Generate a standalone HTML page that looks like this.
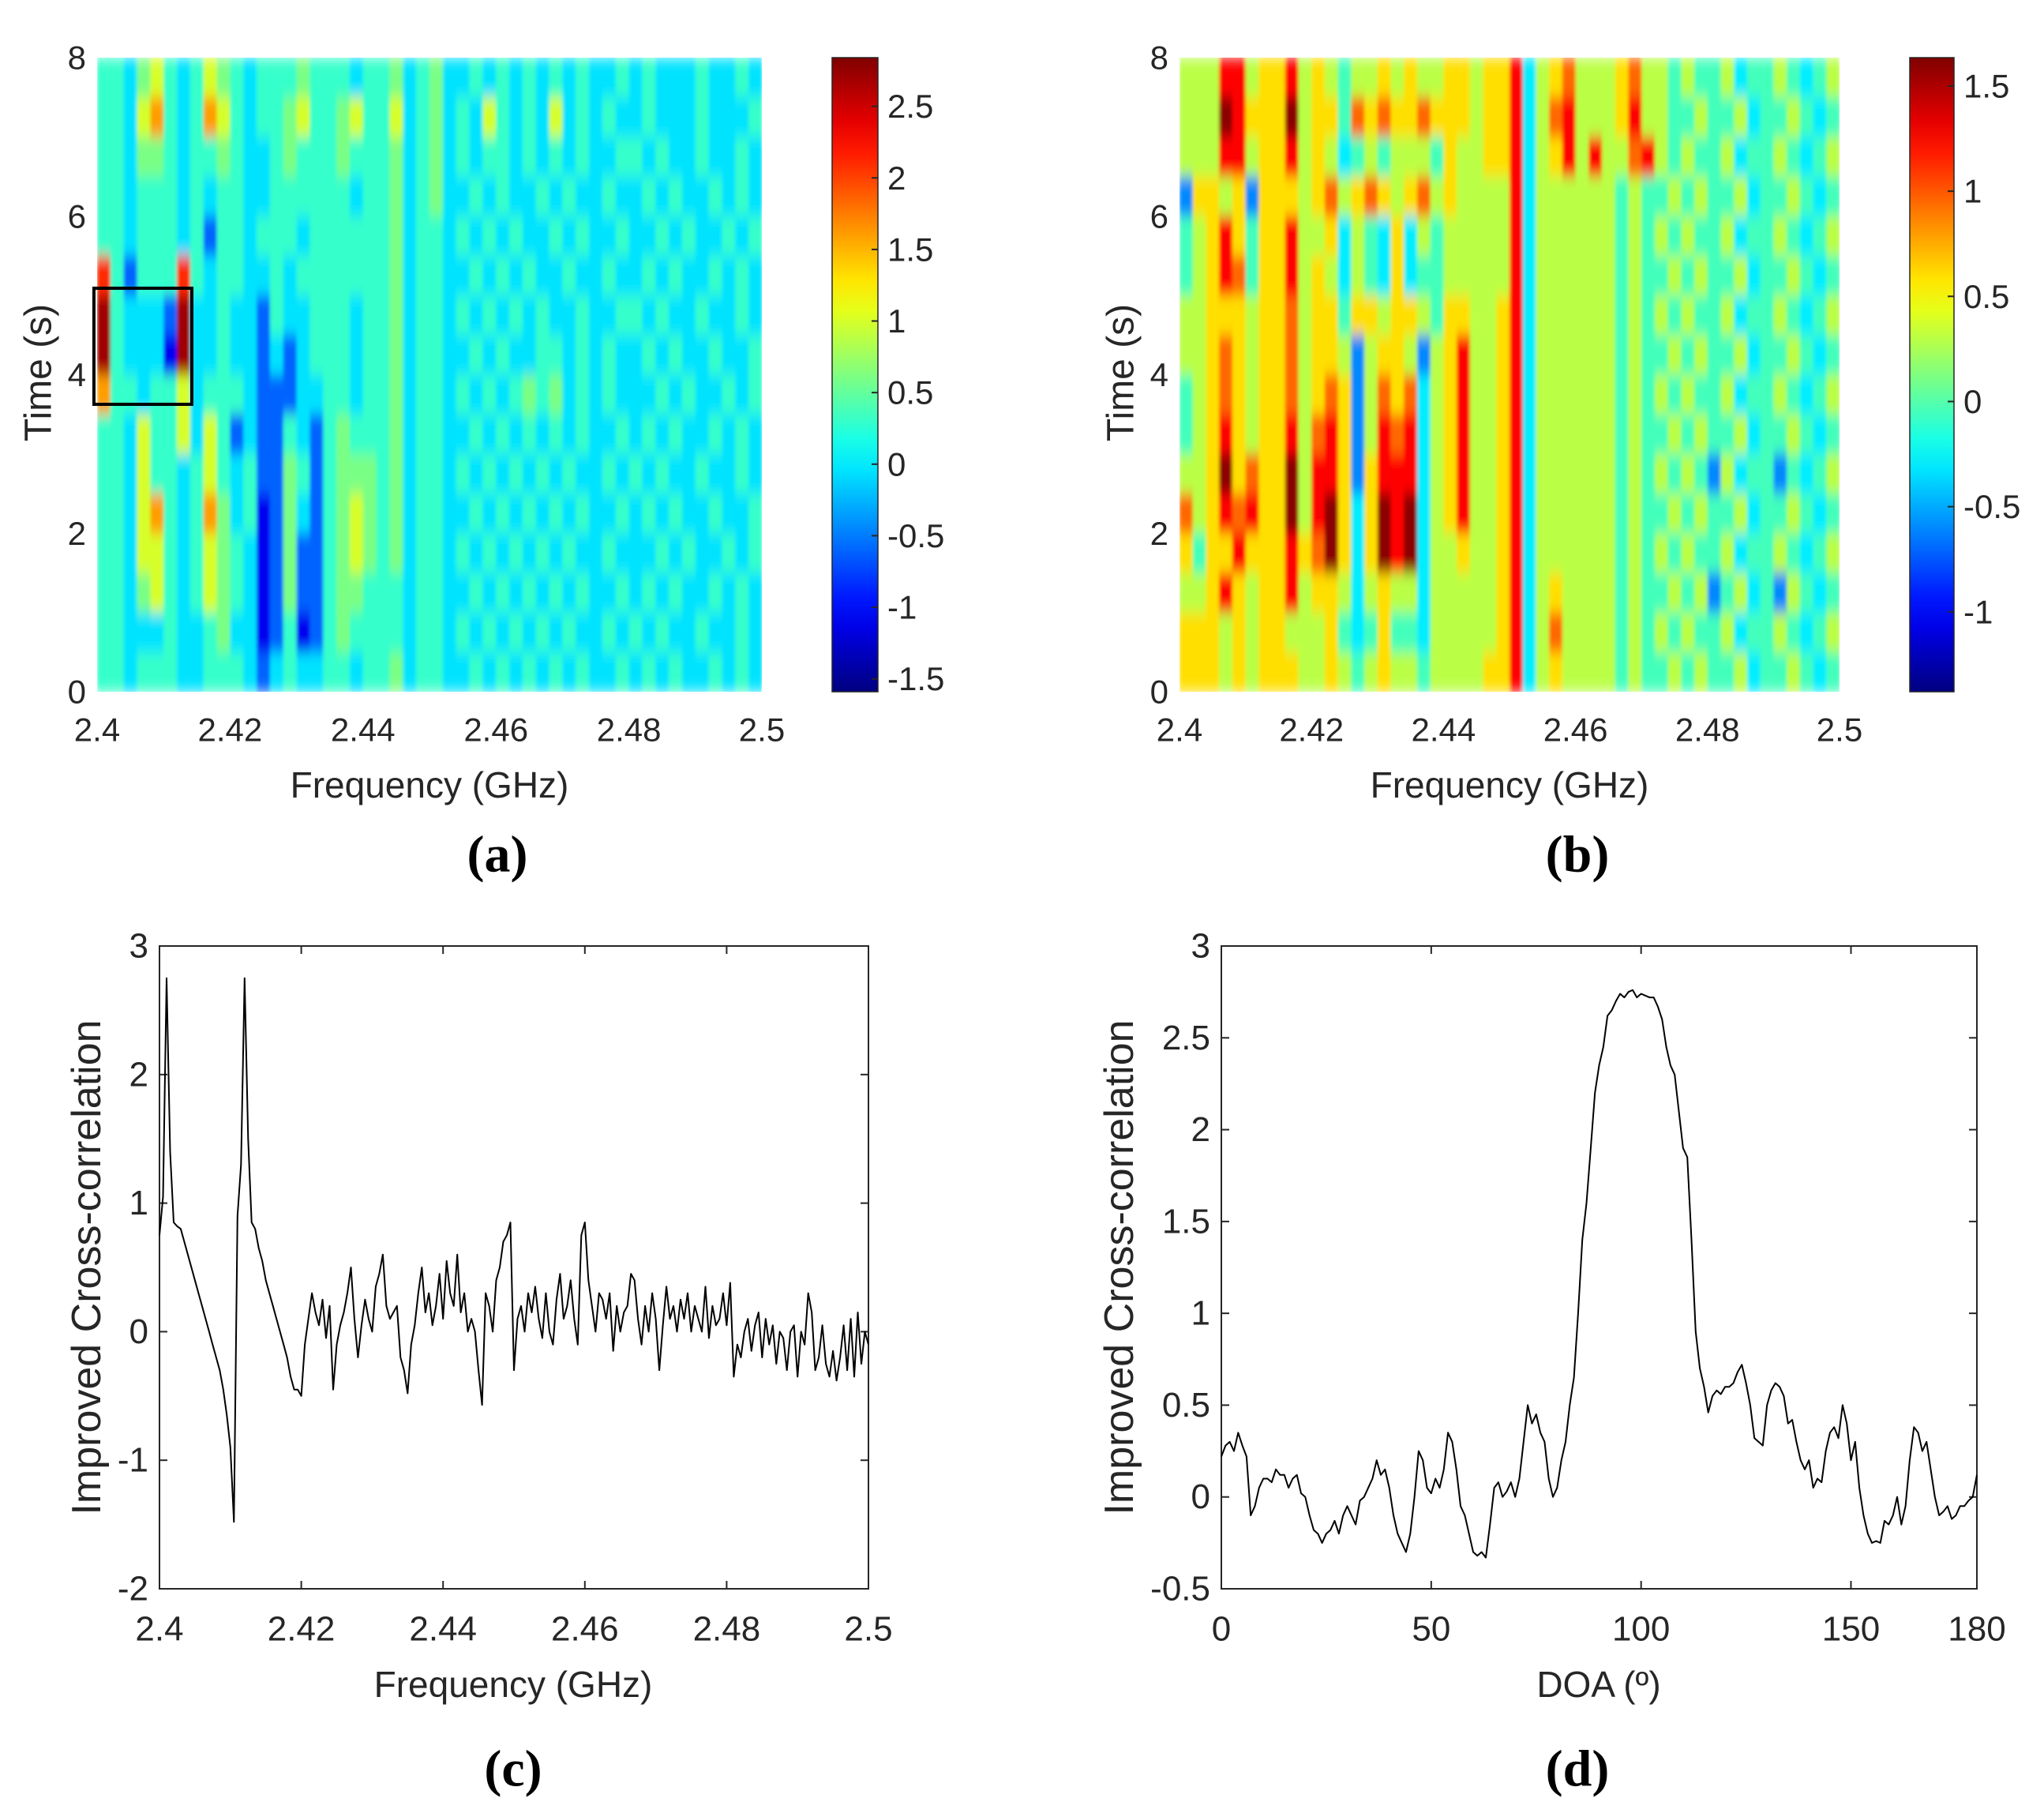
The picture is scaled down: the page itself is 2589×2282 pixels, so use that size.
<!DOCTYPE html>
<html><head><meta charset="utf-8">
<style>
html,body{margin:0;padding:0;background:#fff;}
svg{display:block;}
text{font-family:"Liberation Sans",sans-serif;fill:#262626;}
.pl{font-family:"Liberation Serif",serif;font-weight:bold;fill:#000;}
</style></head>
<body>
<svg id="fig" width="2589" height="2282" viewBox="0 0 2589 2282" xmlns="http://www.w3.org/2000/svg">
<defs>
<filter id="blur" x="0" y="0" width="100%" height="100%"><feGaussianBlur stdDeviation="2 9" edgeMode="duplicate"/></filter>
<clipPath id="clipA"><rect x="123" y="73" width="842" height="803"/></clipPath>
<clipPath id="clipB"><rect x="1494" y="73" width="836" height="803"/></clipPath>
<linearGradient id="jetA" x1="0" y1="1" x2="0" y2="0"></linearGradient>
<linearGradient id="jetB" x1="0" y1="1" x2="0" y2="0"></linearGradient>
</defs>
<g id="root"></g>
</svg>
<script>
// ---------- data ----------
const freqTicks = ["2.4","2.42","2.44","2.46","2.48","2.5"];
const freqTickVals = [2.4,2.42,2.44,2.46,2.48,2.5];
const timeTicks = [0,2,4,6,8];
const cbTicksA = [-1.5,-1,-0.5,0,0.5,1,1.5,2,2.5];
const cbTicksB = [-1,-0.5,0,0.5,1,1.5];
// value for each digit level
const levelsA = [-1.5,-1.1,-0.6,-0.05,0.3,0.6,1.0,1.6,2.1,2.7];
const levelsB = [-1.35,-0.95,-0.6,-0.3,-0.05,0.3,0.6,0.95,1.25,1.6];
// heatmap (a): 16 rows (t=8 -> 0), 50 cols (2.400 -> 2.500)
const heatA = [
"4435643465 4344454443 4453453343 4343434334 3433343343",
"4436743476 4344564456 4463453436 4343634343 3433343334",
"4435543445 4334544454 4453453434 4343434334 4343343343",
"4434443434 4334444443 4453453343 4334343343 3434334343",
"4434443424 4344434444 4453443434 3433434334 3343433434",
"8424448434 4334344444 4453443343 4343343343 3434334343",
"9433329334 3324334443 4453443434 3434334334 4343343343",
"9433319334 3323234443 4453443343 4334434343 3434334334",
"7443446344 4322233443 4453443434 3454534343 3343433434",
"4436446364 2322432454 4453443343 4343434334 3434334343",
"4436443464 3422542455 5453443434 3434343343 4343343343",
"4436743475 3412532456 5453443343 4343434334 3434334334",
"4436643465 4312522456 5453443434 3434343343 3343433434",
"4435643465 4312522455 4443443343 4343434334 3434334343",
"4433343345 3312412454 4443443434 3434343343 4343343343",
"4434443344 4323433443 4453443343 4343434334 3434334343"];
// heatmap (b)
const heatB = [
"5558856685 6545565655 6656683567 5556755454 4534454345",
"5559866695 6647676676 6656683578 5556855445 4453445434",
"5558856685 6534545554 6556683568 5855785454 4534454345",
"2665626665 6756765675 6555583555 5554544545 4453445434",
"4568646685 5635436354 5555583555 5554545454 4534454345",
"4568746685 6535436344 5555583555 5554544545 4453445434",
"5566656675 6646656654 6655683555 5554545454 4534454345",
"5567656675 6652566525 6855683555 5554544545 4453445434",
"4567656675 6762576735 6855683555 5554545454 4534454345",
"4568656685 7862587835 6855683555 5554544545 4453445434",
"5569676695 8862688835 6855683555 5554545454 2534424345",
"7568786695 8963698935 6855683555 5554544545 4453445434",
"6466866686 7963698935 5655683555 5554545454 4534454345",
"5568656685 6653565535 5555683565 5554544545 2453425434",
"6665656655 5643464435 5555683575 5554545454 4534454345",
"6665656665 5654565545 5556683565 5554544545 4453445434"];
// (c) values at 0.0005 GHz steps from 2.400 to 2.500
const cVals = [0.75,1.05,2.75,1.4,0.85,0.82,0.8,0.7,0.6,0.5,0.4,0.3,0.2,0.1,0,-0.1,-0.2,-0.3,-0.45,-0.65,-0.9,-1.48,0.9,1.3,2.75,1.5,0.85,0.8,0.65,0.55,0.4,0.3,0.2,0.1,0,-0.1,-0.2,-0.35,-0.45,-0.45,
-0.5,-0.1,0.1,0.3,0.15,0.05,0.25,-0.05,0.2,-0.45,
-0.1,0.05,0.15,0.3,0.5,0.1,-0.2,0.05,0.25,0.1,
0.0,0.35,0.45,0.6,0.2,0.1,0.15,0.2,-0.2,-0.3,
-0.48,-0.1,0.05,0.3,0.5,0.15,0.3,0.05,0.2,0.45,
0.1,0.55,0.3,0.2,0.6,0.15,0.3,0.0,0.1,0.0,
-0.3,-0.57,0.3,0.2,0.0,0.4,0.5,0.7,0.75,0.85,
-0.3,0.1,0.2,0.0,0.3,0.15,0.35,0.1,-0.05,0.3,
0.0,-0.1,0.25,0.45,0.1,0.2,0.4,0.1,-0.1,0.75,
0.85,0.4,0.2,0.0,0.3,0.25,0.1,0.3,-0.15,0.2,
0.0,0.15,0.2,0.45,0.4,0.1,-0.1,0.2,0.0,0.3,
0.1,-0.3,0.05,0.35,0.1,0.2,0.0,0.25,0.1,0.3,
0.0,0.2,0.1,0.0,0.35,-0.05,0.2,0.05,0.1,0.3,
0.05,0.38,-0.35,-0.1,-0.2,0.0,0.1,-0.15,0.05,0.15,
-0.2,0.1,-0.1,0.05,-0.25,0.0,-0.05,-0.3,0.0,0.05,
-0.35,0.0,-0.1,0.3,0.15,-0.3,-0.2,0.05,-0.25,-0.35,
-0.15,-0.38,-0.2,0.05,-0.3,0.1,-0.35,0.15,-0.25,0.0,
-0.1];
const cStart = 2.4, cStep = 0.0005;
const cYTicks = [-2,-1,0,1,2,3];
// (d) values at 1 degree steps 0..180
const dVals = [0.22,0.28,0.3,0.25,0.35,0.28,0.22,-0.1,-0.05,0.05,0.1,0.1,0.08,0.15,0.12,0.12,0.05,0.1,0.12,0.02,
0.0,-0.1,-0.18,-0.2,-0.25,-0.2,-0.18,-0.13,-0.2,-0.1,-0.05,-0.1,-0.15,-0.02,0.0,0.05,0.1,0.2,0.12,0.15,
0.05,-0.1,-0.2,-0.25,-0.3,-0.2,0.0,0.25,0.2,0.05,0.02,0.1,0.05,0.15,0.35,0.3,0.15,-0.05,-0.1,-0.2,
-0.3,-0.32,-0.3,-0.33,-0.15,0.05,0.08,0.0,0.03,0.08,0.0,0.1,0.3,0.5,0.4,0.45,0.35,0.3,0.1,0.0,
0.05,0.2,0.3,0.5,0.65,1.0,1.4,1.6,1.9,2.2,2.35,2.45,2.62,2.65,2.7,2.74,2.72,2.75,2.76,2.72,
2.74,2.73,2.72,2.72,2.67,2.6,2.45,2.35,2.3,2.1,1.9,1.85,1.4,0.9,0.7,0.6,0.46,0.55,0.58,0.56,
0.6,0.6,0.62,0.68,0.72,0.62,0.5,0.32,0.3,0.28,0.5,0.58,0.62,0.6,0.55,0.4,0.42,0.3,0.2,0.15,
0.2,0.05,0.1,0.08,0.25,0.35,0.38,0.32,0.5,0.4,0.2,0.3,0.05,-0.1,-0.2,-0.25,-0.24,-0.25,-0.13,-0.15,
-0.1,0.0,-0.15,-0.05,0.2,0.38,0.35,0.25,0.3,0.15,0.0,-0.1,-0.08,-0.05,-0.12,-0.1,-0.05,-0.05,-0.02,0.0,0.12];
const dXTicks = [0,50,100,150,180];
const dYTicks = ["-0.5","0","0.5","1","1.5","2","2.5","3"];

// ---------- helpers ----------
const NS = "http://www.w3.org/2000/svg";
const root = document.getElementById('root');
function mk(tag, attrs, parent){ const e=document.createElementNS(NS,tag); for(const k in attrs) e.setAttribute(k,attrs[k]); (parent||root).appendChild(e); return e; }
function txt(s,x,y,size,anchor,parent,name,cls){ const t=mk('text',{x:x,y:y,'font-size':size,'text-anchor':anchor||'middle','dominant-baseline':'central'},parent); if(cls) t.setAttribute('class',cls); t.textContent=s;
 
 
 return t; }
function jet(v){
 const f=(x)=>Math.max(0,Math.min(1,x));
 const r=f(Math.min(4*v-1.5,-4*v+4.5)), g=f(Math.min(4*v-0.5,-4*v+3.5)), b=f(Math.min(4*v+0.5,-4*v+2.5));
 return `rgb(${Math.round(r*255)},${Math.round(g*255)},${Math.round(b*255)})`; }
function linScale(d0,d1,r0,r1){ return v=> r0+(v-d0)/(d1-d0)*(r1-r0); }

function heatmap(cfg){
 const {x0,x1,y0,y1,rows,vmin,vmax,levels,clip,name,cbx0,cbx1,cbTicks,gradId}=cfg;
 const g=mk('g',{'clip-path':`url(#${clip})`});
 
 
 const inner=mk('g',{filter:'url(#blur)'},g);
 const xs=linScale(2.4,2.5,x0,x1), ys=linScale(0,8,y1,y0);
 const nr=rows.length;
 rows.forEach((row,ri)=>{
  const s=row.replace(/ /g,''); const nc=s.length;
  for(let ci=0;ci<nc;ci++){
   const val=levels[parseInt(s[ci])];
   const fa=2.4+0.1*ci/nc, fb=2.4+0.1*(ci+1)/nc;
   const ta=8-8*ri/nr, tb=8-8*(ri+1)/nr;
   const r=mk('rect',{x:xs(fa),y:ys(ta),width:xs(fb)-xs(fa)+0.6,height:ys(tb)-ys(ta)+0.6,fill:jet((val-vmin)/(vmax-vmin))},inner);
   
   
  }
 });
 freqTickVals.forEach((f,i)=>{ txt(freqTicks[i],xs(f),924,42,'middle',null,'x-tick-label'); });
 timeTicks.forEach(t=>{ txt(String(t),x0-14,ys(t),42,'end',null,'y-tick-label'); });
 txt('Frequency (GHz)',(x0+x1)/2,994,46,'middle',null,'x-axis-title');
 const yl=txt('Time (s)',0,0,48,'middle',null,'y-axis-title'); yl.setAttribute('transform',`translate(${x0-74},472) rotate(-90)`);
 const grad=document.getElementById(gradId);
 for(let i=0;i<=20;i++){ const s=document.createElementNS(NS,'stop'); s.setAttribute('offset',i/20); s.setAttribute('stop-color',jet(i/20)); grad.appendChild(s); }
 const cb=mk('rect',{x:cbx0,y:y0,width:cbx1-cbx0,height:y1-y0,fill:`url(#${gradId})`,stroke:'#262626','stroke-width':1.5});
 
 
 const cs=linScale(vmin,vmax,y1,y0);
 cbTicks.forEach(v=>{ mk('line',{x1:cbx1-8,x2:cbx1,y1:cs(v),y2:cs(v),stroke:'#262626','stroke-width':2}); txt(String(v),cbx1+12,cs(v),42,'start',null,'colorbar-tick-label'); });
 return xs;
}

// ---------- (a) ----------
heatmap({x0:123,x1:965,y0:73,y1:876,rows:heatA,vmin:-1.59,vmax:2.84,levels:levelsA,clip:'clipA',name:'heatmap-a',cbx0:1054,cbx1:1112,cbTicks:cbTicksA,gradId:'jetA'});
const box=mk('rect',{x:119,y:365,width:124,height:147,fill:'none',stroke:'#000','stroke-width':4});


txt('(a)',630,1082,66,'middle',null,'panel-label-a','pl');

// ---------- (b) ----------
heatmap({x0:1494,x1:2330,y0:73,y1:876,rows:heatB,vmin:-1.38,vmax:1.635,levels:levelsB,clip:'clipB',name:'heatmap-b',cbx0:2419,cbx1:2475,cbTicks:cbTicksB,gradId:'jetB'});
txt('(b)',1998,1082,66,'middle',null,'panel-label-b','pl');

// ---------- line plots ----------
function linePlot(cfg){
 const {x0,x1,y0,y1,xmin,xmax,ymin,ymax,xt,xtl,yt,ytl,xs0,xstep,vals,name,xlabel,xlabelX,ylabelX}=cfg;
 const xs=linScale(xmin,xmax,x0,x1), ys=linScale(ymin,ymax,y1,y0);
 const frame=mk('rect',{x:x0,y:y0,width:x1-x0,height:y1-y0,fill:'#fff',stroke:'#262626','stroke-width':2});
 
 
 xt.forEach((v,i)=>{ mk('line',{x1:xs(v),x2:xs(v),y1:y1,y2:y1-10,stroke:'#262626','stroke-width':2}); mk('line',{x1:xs(v),x2:xs(v),y1:y0,y2:y0+10,stroke:'#262626','stroke-width':2}); txt(xtl[i],xs(v),2063,44,'middle',null,'x-tick-label'); });
 yt.forEach((v,i)=>{ mk('line',{x1:x0,x2:x0+10,y1:ys(v),y2:ys(v),stroke:'#262626','stroke-width':2}); mk('line',{x1:x1,x2:x1-10,y1:ys(v),y2:ys(v),stroke:'#262626','stroke-width':2}); txt(ytl[i],x0-14,ys(v),44,'end',null,'y-tick-label'); });
 const pts=vals.map((v,i)=>`${xs(xs0+i*xstep).toFixed(1)},${ys(v).toFixed(1)}`).join(' ');
 const pl=mk('polyline',{points:pts,fill:'none',stroke:'#000','stroke-width':2,'stroke-linejoin':'round'});
 
 
 txt(xlabel,xlabelX,2133,46,'middle',null,'x-axis-title');
 const yl=txt('Improved Cross-correlation',0,0,52,'middle',null,'y-axis-title'); yl.setAttribute('transform',`translate(${ylabelX},1605) rotate(-90)`);
}
linePlot({x0:202,x1:1100,y0:1198,y1:2012,xmin:2.4,xmax:2.5,ymin:-2,ymax:3,xt:freqTickVals,xtl:freqTicks,yt:cYTicks,ytl:cYTicks.map(String),xs0:cStart,xstep:cStep,vals:cVals,name:'cross-correlation-vs-frequency-line',xlabel:'Frequency (GHz)',xlabelX:650,ylabelX:110});
txt('(c)',650,2240,66,'middle',null,'panel-label-c','pl');
linePlot({x0:1547,x1:2504,y0:1198,y1:2012,xmin:0,xmax:180,ymin:-0.5,ymax:3,xt:dXTicks,xtl:dXTicks.map(String),yt:dYTicks.map(Number),ytl:dYTicks,xs0:0,xstep:1,vals:dVals,name:'cross-correlation-vs-doa-line',xlabel:'DOA (º)',xlabelX:2025,ylabelX:1418});
txt('(d)',1998,2240,66,'middle',null,'panel-label-d','pl');
</script>
</body></html>
